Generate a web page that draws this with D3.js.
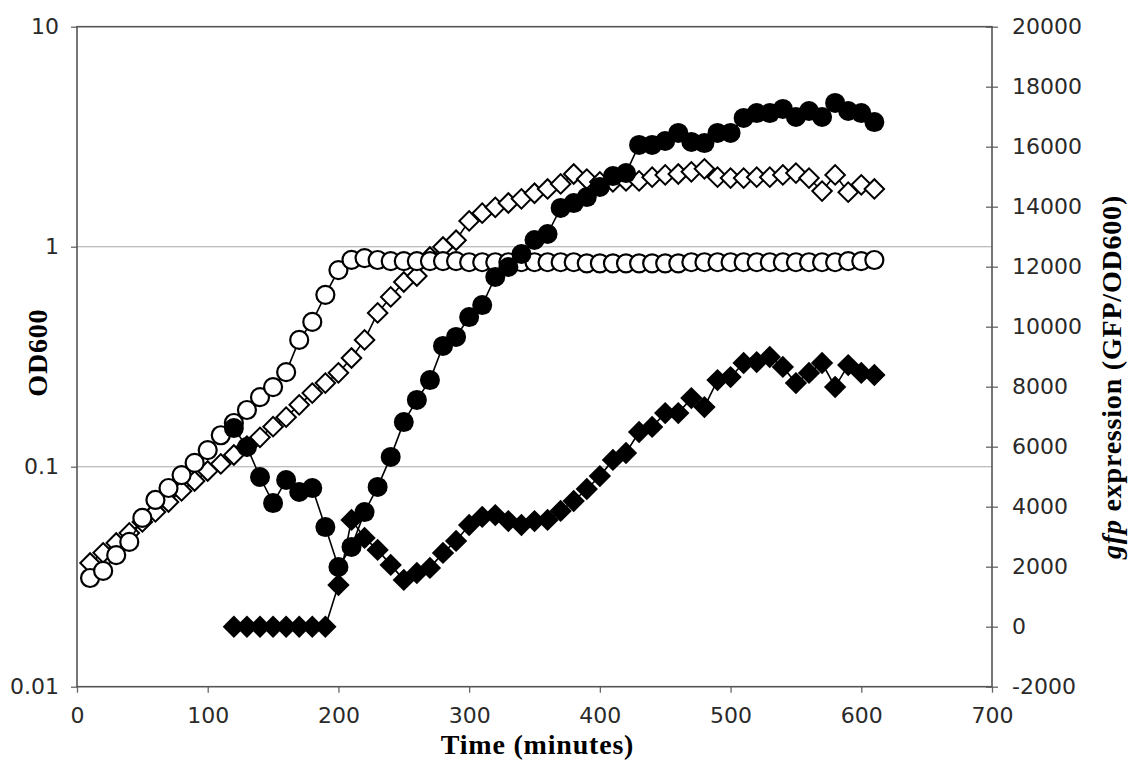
<!DOCTYPE html>
<html>
<head>
<meta charset="utf-8">
<script src="https://cdn.jsdelivr.net/npm/d3@7"></script>
<style>
  html, body { margin: 0; padding: 0; background: #fff; }
  svg { display: block; }
</style>
</head>
<body>
<svg id="chart" width="1129" height="760"></svg>
<script>
// Sampling times (minutes)
const timeOD = [10,20,30,40,50,60,70,80,90,100,110,120,130,140,150,160,170,180,190,200,
  210,220,230,240,250,260,270,280,290,300,310,320,330,340,350,360,370,380,390,400,
  410,420,430,440,450,460,470,480,490,500,510,520,530,540,550,560,570,580,590,600,610];
const timeGfp = [120,130,140,150,160,170,180,190,200,
  210,220,230,240,250,260,270,280,290,300,310,320,330,340,350,360,370,380,390,400,
  410,420,430,440,450,460,470,480,490,500,510,520,530,540,550,560,570,580,590,600,610];

// OD600 (left, log axis)
const odCircles = [0.0312,0.0336,0.0396,0.0455,0.0585,0.0706,0.080,0.0916,0.104,0.119,
  0.139,0.158,0.181,0.207,0.230,0.269,0.377,0.455,0.604,0.783,
  0.871,0.888,0.87,0.86,0.86,0.86,0.86,0.86,0.86,0.85,
  0.85,0.85,0.85,0.85,0.85,0.85,0.85,0.85,0.84,0.84,
  0.84,0.84,0.84,0.84,0.84,0.84,0.85,0.85,0.85,0.85,
  0.85,0.85,0.85,0.85,0.85,0.85,0.85,0.85,0.86,0.86,0.87];
const odDiamonds = [0.0365,0.0406,0.045,0.050,0.0561,0.0623,0.0691,0.0776,0.0861,0.0956,
  0.103,0.113,0.124,0.136,0.152,0.168,0.191,0.216,0.240,0.267,
  0.312,0.377,0.500,0.591,0.691,0.736,0.898,0.997,1.07,1.31,
  1.42,1.51,1.58,1.65,1.75,1.83,1.93,2.14,2.03,1.97,
  1.97,1.99,1.99,2.07,2.12,2.14,2.19,2.26,2.07,2.05,
  2.05,2.07,2.07,2.12,2.16,2.05,1.79,2.12,1.77,1.91,1.83];

// gfp expression (GFP/OD600), right axis
const gfpCircles = [6620,5990,4990,4120,4890,4490,4620,3320,1990,
  2660,3820,4660,5660,6820,7560,8220,9360,9660,10320,10720,11660,11990,12420,12890,13090,
  13960,14120,14320,14660,15020,15120,16060,16060,16190,16460,16160,16120,16460,16460,
  16960,17120,17120,17260,16990,17190,16990,17460,17190,17120,16820];
const gfpDiamonds = [0,0,0,0,0,0,0,0,1390,
  3560,2960,2560,2060,1560,1790,1960,2460,2860,3390,3660,3720,3520,3390,3520,3560,
  3860,4190,4590,5020,5560,5790,6490,6660,7120,7120,7620,7320,8220,8320,
  8790,8820,8990,8660,8120,8460,8790,7990,8720,8460,8390];

const xTicks = [0,100,200,300,400,500,600,700];
const leftTicks = [0.01,0.1,1,10];
const rightTicks = [-2000,0,2000,4000,6000,8000,10000,12000,14000,16000,18000,20000];

const svg = d3.select("#chart");
const L = 77, R = 992, T = 26.7, B = 686.7;

const x = d3.scaleLinear().domain([0,700]).range([L,R]);
const yL = d3.scaleLog().domain([0.01,10]).range([B,T]);
const yR = d3.scaleLinear().domain([-2000,20000]).range([B,T]);

const tickFont = "Verdana, 'DejaVu Sans', sans-serif";
const titleFont = "'Liberation Serif', 'Times New Roman', serif";

// Gridlines at 1 and 0.1
svg.append("g").selectAll("line").data([0.1,1]).join("line")
  .attr("x1",L).attr("x2",R)
  .attr("y1",d=>yL(d)).attr("y2",d=>yL(d))
  .attr("stroke","#a8a8a8").attr("stroke-width",1.1);

// Axes
function styleAxis(g){
  g.select(".domain").remove();
  g.selectAll(".tick line").attr("stroke","#666").attr("stroke-width",1.3);
  g.selectAll(".tick text").attr("fill","#2a2a2a")
    .style("font-family",tickFont).style("font-size","22px");
}
svg.append("g").attr("transform",`translate(${L},0)`)
  .call(d3.axisLeft(yL).tickValues(leftTicks).tickFormat(d=>String(d)).tickSize(6).tickPadding(12))
  .call(styleAxis);
svg.append("g").attr("transform",`translate(0,${B})`)
  .call(d3.axisBottom(x).tickValues(xTicks).tickFormat(d=>String(d)).tickSize(6).tickPadding(15))
  .call(styleAxis);
const gR = svg.append("g").attr("transform",`translate(${R},0)`)
  .call(d3.axisRight(yR).tickValues(rightTicks).tickFormat(d=>String(d)).tickSize(6).tickPadding(14))
  .call(styleAxis);
gR.selectAll(".tick line").attr("x1",-6);

// Plot frame
svg.append("rect").attr("x",L).attr("y",T).attr("width",R-L).attr("height",B-T)
  .attr("fill","none").attr("stroke","#555").attr("stroke-width",1.6);

const plot = svg.append("g");
const diamond = d3.symbol().type(d3.symbolSquare);

function series(times, vals, yScale, kind){
  const pts = times.map((t,i)=>[x(t), yScale(vals[i])]);
  const g = plot.append("g");
  g.append("path").attr("d", d3.line()(pts))
    .attr("fill","none").attr("stroke","#000").attr("stroke-width",1.6);
  if (kind === "openCircle" || kind === "fillCircle") {
    g.selectAll("circle").data(pts).join("circle")
      .attr("cx",d=>d[0]).attr("cy",d=>d[1])
      .attr("r", kind === "openCircle" ? 9 : 10)
      .attr("fill", kind === "openCircle" ? "#fff" : "#000")
      .attr("stroke","#000").attr("stroke-width", kind === "openCircle" ? 2.2 : 0);
  } else {
    g.selectAll("path.m").data(pts).join("path").attr("class","m")
      .attr("d", diamond.size(kind === "openDiamond" ? 190 : 250)())
      .attr("transform",d=>`translate(${d[0]},${d[1]}) rotate(45)`)
      .attr("fill", kind === "openDiamond" ? "#fff" : "#000")
      .attr("stroke","#000").attr("stroke-width", kind === "openDiamond" ? 2 : 0);
  }
}

series(timeOD, odDiamonds, yL, "openDiamond");
series(timeOD, odCircles, yL, "openCircle");
series(timeGfp, gfpDiamonds, yR, "fillDiamond");
series(timeGfp, gfpCircles, yR, "fillCircle");

// Axis titles
const titleStyle = sel => sel
  .style("font-family",titleFont).style("font-weight","bold")
  .style("font-size","28px").style("letter-spacing","0.8px");

svg.append("text").attr("x",(L+R)/2+3).attr("y",753.5)
  .attr("text-anchor","middle").call(titleStyle)
  .text("Time (minutes)");

svg.append("text").attr("transform",`translate(47,${(T+B)/2-4}) rotate(-90)`)
  .attr("text-anchor","middle").call(titleStyle)
  .text("OD600");

const rt = svg.append("text").attr("transform",`translate(1121,377) rotate(-90)`)
  .attr("text-anchor","middle").call(titleStyle);
rt.append("tspan").style("font-style","italic").text("gfp");
rt.append("tspan").text(" expression (GFP/OD600)");
</script>
</body>
</html>
